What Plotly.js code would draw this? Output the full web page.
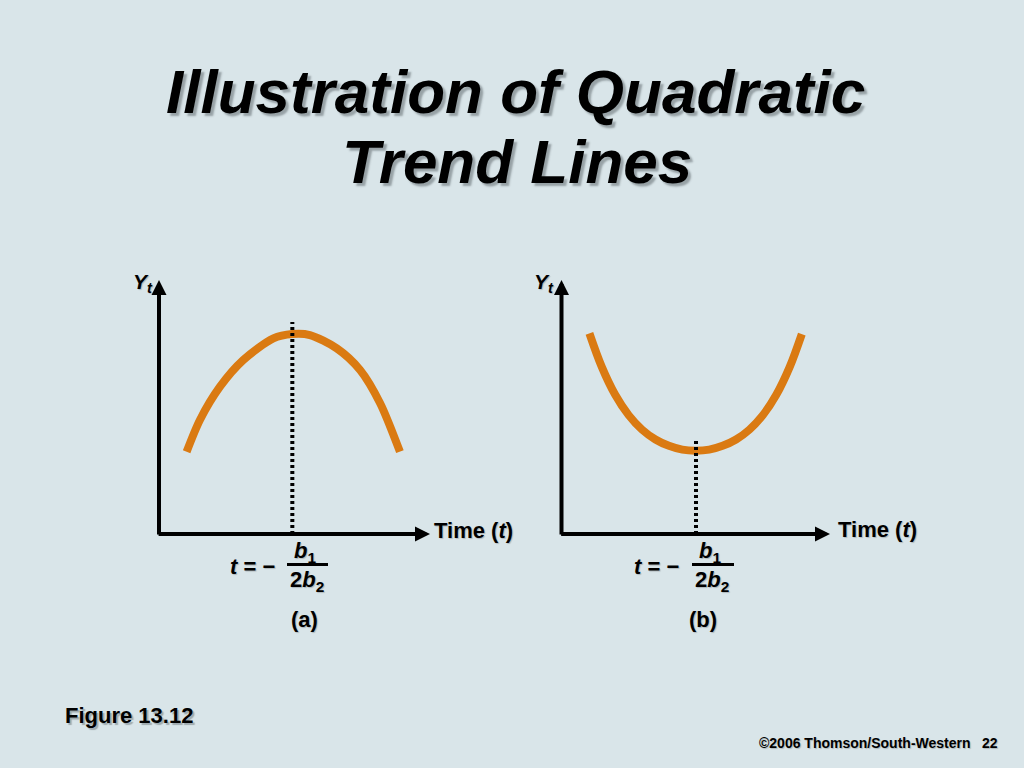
<!DOCTYPE html>
<html>
<head>
<meta charset="utf-8">
<script src="https://cdn.plot.ly/plotly-3.0.1.min.js"></script>
<style>
  html, body { margin: 0; padding: 0; background: #d9e5e9; }
  #chart { width: 1024px; height: 768px; }
</style>
</head>
<body>
<div id="chart"></div>
<script>
// ---- Data (t and Y in arbitrary 0..10 axis units) ----
const curveA_t = [1.02, 1.51, 2.25, 3.11, 4.22, 4.92, 5.57, 6.56, 7.42, 8.16, 8.89];
const curveA_y = [3.24, 4.49, 5.80, 6.85, 7.70, 7.87, 7.83, 7.31, 6.46, 5.15, 3.24];
const curveB_t = [1.04, 1.5, 2.0, 2.5, 3.0, 3.5, 4.0, 4.5, 5.0, 5.5, 6.0, 6.5, 7.0, 7.5, 8.0, 8.5, 8.95];
const curveB_y = [7.90, 6.58, 5.48, 4.68, 4.11, 3.72, 3.47, 3.32, 3.28, 3.32, 3.47, 3.72, 4.11, 4.68, 5.48, 6.58, 7.87];
const dropA_t = [4.92, 4.92];
const dropA_y = [0, 8.35];
const dropB_t = [5.01, 5.01];
const dropB_y = [0, 3.70];
const axisEnd = 10;

// ---- Text ----
const titleLine1 = '<b><i>Illustration of Quadratic</i></b>';
const titleLine2 = '<b><i>Trend Lines</i></b>';
const yLabel = '<b><i>Y</i></b><sub><b><i>t</i></b></sub>';
const xLabel = '<b>Time (<i>t</i>)</b>';
const eqLeft = '<b><i>t</i> = \u2212</b>';
const eqNum = '<b><i>b</i><sub>1</sub></b>';
const eqDen = '<b>2<i>b</i><sub>2</sub></b>';
const panelLabels = ['<b>(a)</b>', '<b>(b)</b>'];
const figureLabel = '<b>Figure 13.12</b>';
const copyright = '<b>\u00a92006 Thomson/South-Western</b>';
const pageNum = '<b>22</b>';

const W = 1024, H = 768;
const px = v => v / W;
const py = v => 1 - v / H;
const ORANGE = '#da7a12';
const BG = '#d9e5e9';
const FONT = 'Liberation Sans, Arial, sans-serif';

const traces = [
  { x: curveA_t, y: curveA_y, xaxis: 'x', yaxis: 'y', mode: 'lines',
    line: { color: ORANGE, width: 8, shape: 'spline', smoothing: 0.8 }, hoverinfo: 'skip' },
  { x: dropA_t, y: dropA_y, xaxis: 'x', yaxis: 'y', mode: 'lines',
    line: { color: '#000', width: 4, dash: '3px,3px' }, hoverinfo: 'skip' },
  { x: curveB_t, y: curveB_y, xaxis: 'x2', yaxis: 'y2', mode: 'lines',
    line: { color: ORANGE, width: 8, shape: 'spline', smoothing: 1 }, hoverinfo: 'skip' },
  { x: dropB_t, y: dropB_y, xaxis: 'x2', yaxis: 'y2', mode: 'lines',
    line: { color: '#000', width: 4, dash: '3px,3px' }, hoverinfo: 'skip' }
];

const hiddenAxis = {
  range: [0, axisEnd], showgrid: false, zeroline: false, showline: false,
  showticklabels: false, ticks: '', fixedrange: true
};

function axisArrows(xr, yr) {
  const common = { xref: xr, yref: yr, axref: xr, ayref: yr, text: '', showarrow: true,
    arrowhead: 2, arrowsize: 0.75, arrowwidth: 4, arrowcolor: '#000' };
  return [
    Object.assign({ x: axisEnd, y: 0, ax: -0.07, ay: 0 }, common),
    Object.assign({ x: 0, y: axisEnd, ax: 0, ay: -0.08 }, common)
  ];
}

function txt(text, x, y, size, xanchor) {
  return {
    xref: 'paper', yref: 'paper', x: px(x), y: py(y), text: text, showarrow: false,
    xanchor: xanchor || 'center', yanchor: 'middle',
    font: { family: FONT, size: size, color: '#000' }
  };
}

const annotations = [].concat(
  [
    txt(titleLine1, 515, 91.5, 62),
    txt(titleLine2, 517, 161.5, 62)
  ],
  axisArrows('x', 'y'),
  axisArrows('x2', 'y2'),
  [
    txt(yLabel, 155, 283, 21, 'right'),
    txt(yLabel, 556, 283, 21, 'right'),
    txt(xLabel, 432, 530.5, 22, 'left'),
    txt(xLabel, 836, 529.5, 22, 'left'),
    txt(eqLeft, 252, 566, 22),
    txt(eqNum, 305, 552, 22),
    txt(eqDen, 307, 581, 22),
    txt(panelLabels[0], 304, 619, 22),
    txt(eqLeft, 656, 566, 22),
    txt(eqNum, 710, 552, 22),
    txt(eqDen, 712, 581, 22),
    txt(panelLabels[1], 703, 619, 22),
    txt(figureLabel, 63, 715.4, 22, 'left'),
    txt(copyright, 757, 743, 14, 'left'),
    txt(pageNum, 1000, 743, 14, 'right')
  ]
);

const shapes = [
  { type: 'line', xref: 'paper', yref: 'paper', x0: px(287), x1: px(328), y0: py(564.5), y1: py(564.5),
    line: { color: '#000', width: 3 } },
  { type: 'line', xref: 'paper', yref: 'paper', x0: px(692), x1: px(734), y0: py(564.5), y1: py(564.5),
    line: { color: '#000', width: 3 } }
];

const layout = {
  width: W, height: H,
  margin: { l: 0, r: 0, t: 0, b: 0 },
  paper_bgcolor: BG, plot_bgcolor: BG,
  showlegend: false,
  xaxis: Object.assign({ domain: [px(159), px(430)], anchor: 'y' }, hiddenAxis),
  yaxis: Object.assign({ domain: [py(534), py(280)], anchor: 'x' }, hiddenAxis),
  xaxis2: Object.assign({ domain: [px(561.5), px(830)], anchor: 'y2' }, hiddenAxis),
  yaxis2: Object.assign({ domain: [py(534), py(280)], anchor: 'x2' }, hiddenAxis),
  annotations: annotations,
  shapes: shapes,
  font: { family: FONT }
};

Plotly.newPlot('chart', traces, layout, { staticPlot: true, displayModeBar: false }).then(function (gd) {
  // soft drop shadows like the slide's text effect
  gd.querySelectorAll('.annotation-text').forEach(function (el) {
    const t = el.textContent || '';
    if (t.indexOf('Illustration') === 0 || t.indexOf('Trend') === 0) {
      el.style.textShadow = '3px 3px 2px rgba(70,80,85,0.45)';
    } else if (t.indexOf('Figure') === 0) {
      el.style.textShadow = '2px 2px 1px rgba(70,80,85,0.4)';
    } else if (t.length) {
      el.style.textShadow = '1px 1px 1px rgba(0,0,0,0.2)';
    }
  });
});
</script>
</body>
</html>
